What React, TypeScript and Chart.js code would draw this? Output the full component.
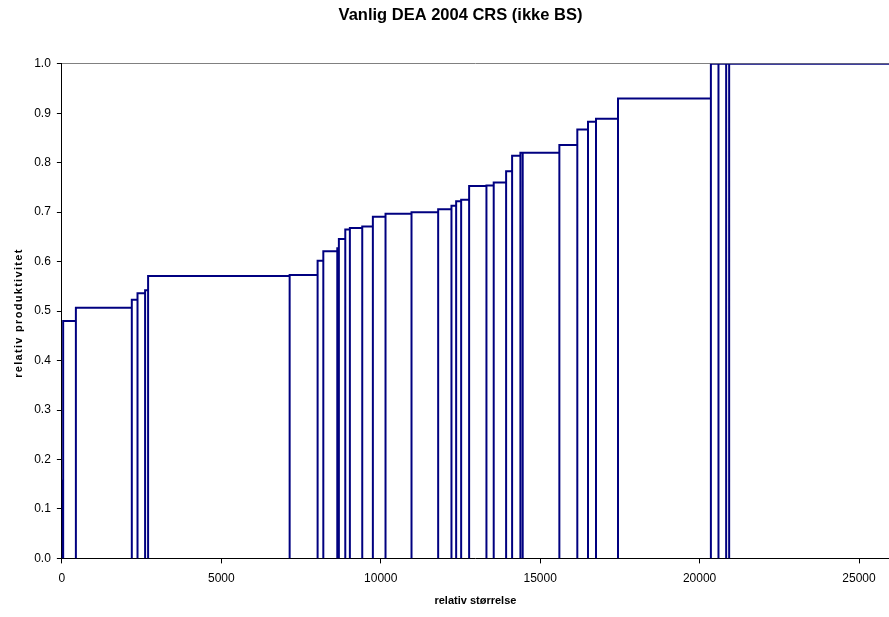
import { useEffect, useRef } from 'react';
import { Chart, registerables } from 'chart.js';

Chart.register(...registerables);

// Relative size (bar width) of each unit, ordered by productivity
const relativeSizes = [
  40, 399, 1754, 179, 238, 94, 4439, 877, 179, 438, 50, 201, 144, 388, 333, 397, 815, 836, 417,
  147, 157, 250, 543, 228, 389, 188, 260, 72, 1150, 563, 335, 251, 690, 2913, 238, 241, 94, 5100,
];

// Relative productivity (bar height) of each unit
const relativeProductivity = [
  0.157, 0.48, 0.507, 0.523, 0.536, 0.542, 0.571, 0.573, 0.602, 0.621, 0.627, 0.646, 0.665, 0.668,
  0.671, 0.691, 0.697, 0.7, 0.706, 0.713, 0.722, 0.725, 0.753, 0.754, 0.76, 0.783, 0.814, 0.82,
  0.82, 0.836, 0.867, 0.883, 0.889, 0.93, 1, 1, 1, 1,
];

const xTickValues = [0, 5000, 10000, 15000, 20000, 25000];
const yTickValues = [0, 0.1, 0.2, 0.3, 0.4, 0.5, 0.6, 0.7, 0.8, 0.9, 1.0];

const X_MAX = 25940;
const NAVY = '#000080';
const FONT = "'Liberation Sans', Arial, sans-serif";

// Outline of each bar: up the left side, across the top, down the right side, then a gap
function buildOutline(sizes: number[], heights: number[]) {
  const pts: { x: number; y: number | null }[] = [];
  let x = 0;
  sizes.forEach((w, i) => {
    const h = heights[i];
    pts.push({ x, y: 0 }, { x, y: h }, { x: x + w, y: h }, { x: x + w, y: 0 }, { x: x + w, y: null });
    x += w;
  });
  return pts;
}

// The chart title sits a little left of the plot area's centre
const titleOffset = {
  id: 'titleOffset',
  afterLayout(chart: any) {
    const t = chart.titleBlock;
    if (t) {
      t.left = 32;
      t.width = t.right - t.left;
    }
  },
};

// Wider letter spacing for the vertical axis title
function spaceOutTitle(scale: any) {
  if (scale._spacedTitle) return;
  const orig = scale.drawTitle.bind(scale);
  scale.drawTitle = (...args: any[]) => {
    const ctx = scale.ctx as any;
    const prev = ctx.letterSpacing;
    ctx.letterSpacing = '1.3px';
    ctx.save();
    ctx.translate(0, 2);
    orig(...args);
    ctx.restore();
    ctx.letterSpacing = prev ?? '0px';
  };
  scale._spacedTitle = true;
}

export default function App() {
  const canvasRef = useRef<HTMLCanvasElement | null>(null);

  useEffect(() => {
    if (!canvasRef.current) return;
    const chart = new Chart(canvasRef.current, {
      type: 'scatter',
      plugins: [titleOffset],
      data: {
        datasets: [
          {
            data: buildOutline(relativeSizes, relativeProductivity) as any,
            showLine: true,
            borderColor: NAVY,
            borderWidth: 2,
            pointRadius: 0,
            pointHoverRadius: 0,
            tension: 0,
            spanGaps: false,
            fill: false,
          },
        ],
      },
      options: {
        animation: false,
        responsive: false,
        events: [],
        layout: { padding: { left: 6, right: 0, top: 0, bottom: 5 } },
        plugins: {
          legend: { display: false },
          tooltip: { enabled: false },
          title: {
            display: true,
            text: 'Vanlig DEA 2004 CRS (ikke BS)',
            color: '#000',
            font: { family: FONT, size: 16.5, weight: 'bold' },
            padding: { top: 6, bottom: 38 },
          },
        },
        scales: {
          x: {
            type: 'linear',
            min: 0,
            max: X_MAX,
            afterBuildTicks: (scale: any) => {
              scale.ticks = xTickValues.map((v) => ({ value: v }));
            },
            ticks: {
              color: '#000',
              font: { family: FONT, size: 12 },
              padding: 8,
              maxRotation: 0,
              callback: (v: any) => String(v),
            },
            grid: {
              color: 'transparent',
              tickColor: '#000',
              tickLength: 5,
              drawOnChartArea: true,
            },
            border: { color: '#000', width: 1 },
            title: {
              display: true,
              text: 'relativ størrelse',
              color: '#000',
              font: { family: FONT, size: 11, weight: 'bold' },
              padding: { top: 1, bottom: 4 },
            },
          },
          y: {
            type: 'linear',
            min: 0,
            max: 1,
            afterBuildTicks: (scale: any) => {
              scale.ticks = yTickValues.map((v) => ({ value: v }));
            },
            afterFit: spaceOutTitle,
            ticks: {
              color: '#000',
              font: { family: FONT, size: 12 },
              padding: 6,
              callback: (v: any) => Number(v).toFixed(1),
            },
            grid: {
              color: (ctx: any) =>
                ctx.tick && Math.abs(ctx.tick.value - 1) < 1e-9 ? '#808080' : 'transparent',
              tickColor: '#000',
              tickLength: 5,
            },
            border: { color: '#000', width: 1 },
            title: {
              display: true,
              text: 'relativ produktivitet',
              color: '#000',
              font: { family: FONT, size: 11, weight: 'bold' },
              padding: { top: 6, bottom: 3 },
            },
          },
        },
      },
    });
    return () => chart.destroy();
  }, []);

  return (
    <div style={{ position: 'fixed', left: 0, top: 0, width: 889, height: 617, background: '#fff' }}>
      <canvas ref={canvasRef} width={889} height={617} />
    </div>
  );
}
